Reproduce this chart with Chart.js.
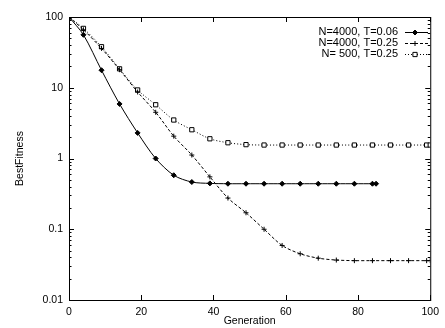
<!DOCTYPE html>
<html>
<head>
<meta charset="utf-8">
<script src="https://cdn.jsdelivr.net/npm/chart.js@4"></script>
<style>
  html, body { margin: 0; padding: 0; background: #fff; }
  #wrap { width: 445px; height: 328px; }
</style>
</head>
<body>
<div id="wrap"><canvas id="myChart" width="445" height="328"></canvas></div>
<script>
// generations sampled for each run
const gensA = [0, 4, 9, 14, 19, 24, 29, 34, 39, 44, 49, 54, 59, 64, 69, 74, 79, 84, 85];
const gensB = [0, 4, 9, 14, 19, 24, 29, 34, 39, 44, 49, 54, 59, 64, 69, 74, 79, 84, 89, 94, 99, 100];

// best fitness per run
const fitA = [100, 56, 17.7, 5.9, 2.3, 1.0, 0.58, 0.465, 0.445, 0.44, 0.44, 0.44, 0.44, 0.44, 0.44, 0.44, 0.44, 0.44, 0.44];
const fitB = [100, 66, 36, 18, 8.7, 4.5, 2.07, 1.12, 0.55, 0.276, 0.171, 0.1, 0.059, 0.045, 0.039, 0.0367, 0.036, 0.036, 0.036, 0.036, 0.036, 0.036];
const fitC = [100, 69, 38, 18.5, 9.3, 5.75, 3.5, 2.55, 1.9, 1.67, 1.57, 1.55, 1.55, 1.55, 1.55, 1.55, 1.55, 1.55, 1.55, 1.55, 1.55, 1.55];

const seriesNames = ['N=4000, T=0.06', 'N=4000, T=0.25', 'N= 500, T=0.25'];
const xTicks = [0, 20, 40, 60, 80, 100];
const yTicks = [0.01, 0.1, 1, 10, 100];

const FONT = '"Liberation Sans", Arial, sans-serif';

const pts = (xs, ys) => xs.map((x, i) => ({ x: x, y: ys[i] }));

// frame, inside ticks, titles, legend (gnuplot look)
const frame = {
  id: 'frame',
  afterDraw(chart) {
    const c = chart.ctx, a = chart.chartArea;
    const xs = chart.scales.x, ys = chart.scales.y;
    c.save();
    c.strokeStyle = '#000';
    c.lineWidth = 1;
    c.strokeRect(a.left + 0.5, a.top + 0.5, a.right - a.left, a.bottom - a.top);
    c.beginPath();
    xTicks.forEach(v => {
      const px = Math.round(xs.getPixelForValue(v)) + 0.5;
      c.moveTo(px, a.bottom); c.lineTo(px, a.bottom - 5);
      c.moveTo(px, a.top); c.lineTo(px, a.top + 5);
    });
    for (let d = -2; d < 2; d++) {
      for (let m = 1; m <= 9; m++) {
        const v = m * Math.pow(10, d);
        const py = Math.round(ys.getPixelForValue(v)) + 0.5;
        const len = m === 1 ? 5 : 2.5;
        c.moveTo(a.left, py); c.lineTo(a.left + len, py);
        c.moveTo(a.right, py); c.lineTo(a.right - len, py);
      }
    }
    c.stroke();

    c.fillStyle = '#000';
    c.font = '10.5px ' + FONT;
    c.textAlign = 'center';
    c.textBaseline = 'middle';
    c.fillText('Generation', (a.left + a.right) / 2, 321);
    c.save();
    c.translate(20, (a.top + a.bottom) / 2);
    c.rotate(-Math.PI / 2);
    c.fillText('BestFitness', 0, 0);
    c.restore();

    // legend with line sample and marker
    c.font = '11px ' + FONT;
    c.textAlign = 'right';
    chart.data.datasets.forEach((d, i) => {
      const y = 32 + i * 11;
      c.fillStyle = '#000';
      c.fillText(d.label, 398, y);
      c.beginPath();
      c.setLineDash(d.borderDash || []);
      c.moveTo(405, y + 0.5); c.lineTo(428, y + 0.5);
      c.stroke();
      c.setLineDash([]);
      c.fillStyle = d.pointBackgroundColor || '#000';
      c.strokeStyle = '#000';
      c.lineWidth = 1;
      Chart.helpers.drawPoint(c, { pointStyle: d.pointStyle, radius: d.pointRadius, rotation: 0, borderWidth: 1 }, 415, y + 0.5);
    });
    c.restore();
  }
};

new Chart(document.getElementById('myChart'), {
  type: 'line',
  data: {
    datasets: [
      { label: seriesNames[0], data: pts(gensA, fitA), borderColor: '#000', borderWidth: 1,
        pointStyle: 'rectRot', pointRadius: 2.5, pointBackgroundColor: '#000', pointBorderColor: '#000', tension: 0.3 },
      { label: seriesNames[1], data: pts(gensB, fitB), borderColor: '#000', borderWidth: 1, borderDash: [3, 2],
        pointStyle: 'cross', pointRadius: 2.5, pointBackgroundColor: '#000', pointBorderColor: '#000', pointBorderWidth: 1, tension: 0.3 },
      { label: seriesNames[2], data: pts(gensB, fitC), borderColor: '#000', borderWidth: 1, borderDash: [1, 2],
        pointStyle: 'rect', pointRadius: 3, pointBackgroundColor: '#fff', pointBorderColor: '#000', pointBorderWidth: 1, tension: 0.3 }
    ]
  },
  options: {
    responsive: false,
    animation: false,
    events: [],
    layout: { padding: { top: 17, right: 8, left: 0, bottom: 0 } },
    plugins: { legend: { display: false }, tooltip: { enabled: false } },
    scales: {
      x: {
        type: 'linear', min: 0, max: 100,
        afterBuildTicks: s => { s.ticks = xTicks.map(v => ({ value: v })); },
        afterFit: s => { s.height = 28; },
        grid: { display: false, drawTicks: false },
        border: { display: false },
        ticks: { padding: 6, color: '#000', font: { family: FONT, size: 10.5 }, maxRotation: 0 }
      },
      y: {
        type: 'logarithmic', min: 0.01, max: 100,
        afterBuildTicks: s => { s.ticks = yTicks.map(v => ({ value: v })); },
        afterFit: s => { s.width = 69; },
        grid: { display: false, drawTicks: false },
        border: { display: false },
        ticks: { padding: 6, color: '#000', font: { family: FONT, size: 10.5 },
          callback: v => String(v) }
      }
    }
  },
  plugins: [frame]
});
</script>
</body>
</html>
